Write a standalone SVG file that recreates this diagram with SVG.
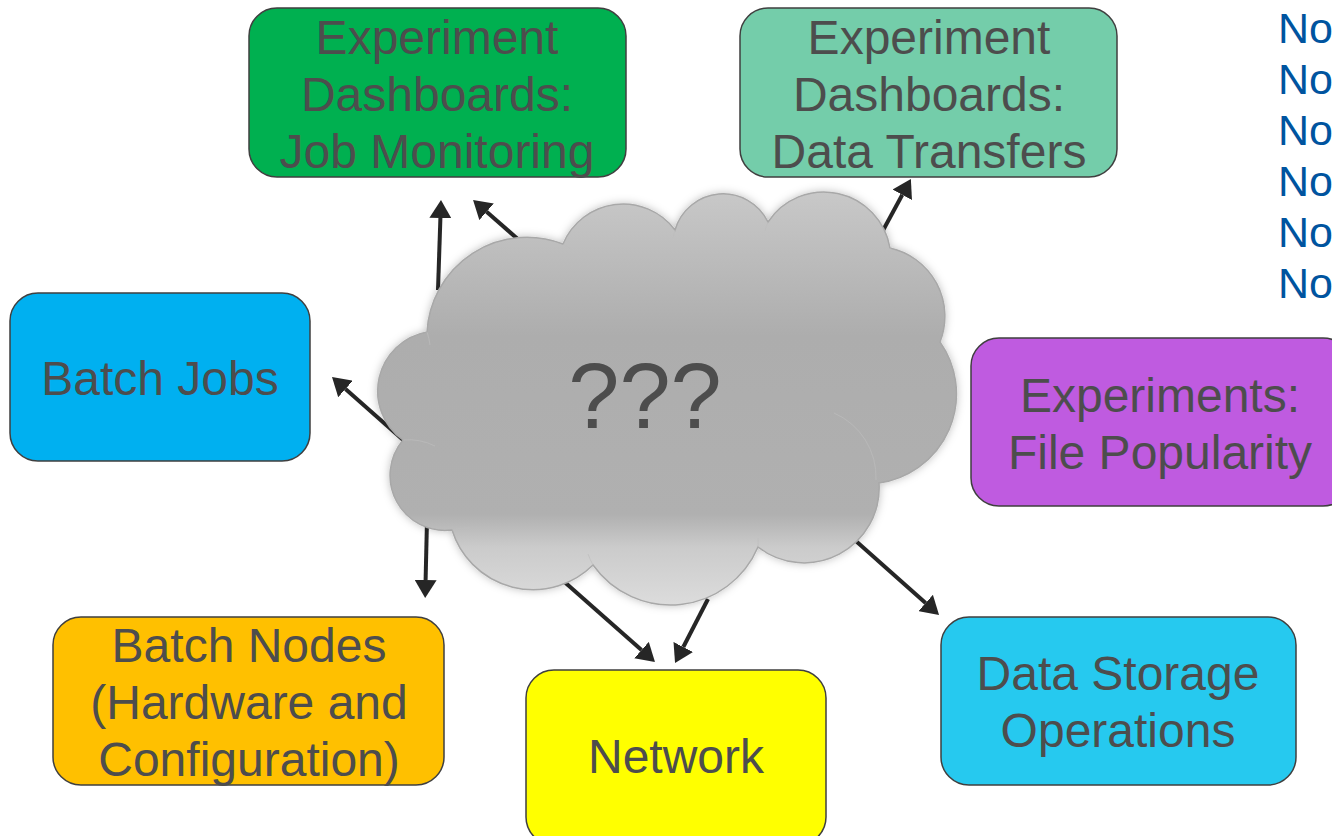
<svg xmlns="http://www.w3.org/2000/svg" width="1332" height="836" viewBox="0 0 1332 836">
<style>
.box{stroke:#3f3f3f;stroke-width:1.5}
.t{font-family:"Liberation Sans",Arial,sans-serif;font-size:48px;fill:#4d4d4d;text-anchor:middle}
.no{font-family:"Liberation Sans",Arial,sans-serif;font-size:43px;fill:#00549f}
.arr{stroke:#262626;stroke-width:4;fill:none;marker-end:url(#ah)}
</style>
<defs>
<marker id="ah" markerUnits="userSpaceOnUse" viewBox="0 0 18 22" markerWidth="18" markerHeight="22" refX="0" refY="11" orient="auto">
<path d="M0,0 L18,11 L0,22 z" fill="#262626"/>
</marker>
<linearGradient id="cg" x1="0" y1="0" x2="0" y2="1">
<stop offset="0" stop-color="#c8c8c8"/>
<stop offset="0.35" stop-color="#adadad"/>
<stop offset="0.78" stop-color="#b0b0b0"/>
<stop offset="0.86" stop-color="#cbcbcb"/>
<stop offset="1" stop-color="#dcdcdc"/>
</linearGradient>
<filter id="sh" x="-10%" y="-10%" width="120%" height="120%">
<feDropShadow dx="0" dy="0" stdDeviation="4" flood-color="#000" flood-opacity="0.25"/>
</filter>
</defs>
<rect width="1332" height="836" fill="#fff"/>
<g id="connectors">
<line class="arr" x1="438" y1="290" x2="440.4" y2="218"/>
<line class="arr" x1="520" y1="241" x2="486.6" y2="211.8"/>
<line class="arr" x1="880" y1="236" x2="902.3" y2="194.8"/>
<line class="arr" x1="410" y1="446" x2="345.5" y2="389"/>
<line class="arr" x1="427" y1="520" x2="425.6" y2="580"/>
<line class="arr" x1="560" y1="578" x2="641.5" y2="650.1"/>
<line class="arr" x1="708" y1="599" x2="683.3" y2="647"/>
<line class="arr" x1="848" y1="534" x2="925.6" y2="603"/>
</g>
<g id="cloud">
<path filter="url(#sh)" fill="url(#cg)" stroke="#a8a8a8" stroke-width="1.5" d="M427,332 A100,100 0 0,1 563,244 A65,65 0 0,1 675,230 A50,50 0 0,1 768,222 A67,67 0 0,1 890,248 A70,70 0 0,1 940,342 A90,90 0 0,1 879,483 A75,75 0 0,1 758,547 A95,95 0 0,1 593,565 A85,85 0 0,1 452,530 A55,55 0 0,1 403,440 A60,60 0 0,1 427,332 Z"/>
<g fill="none" stroke="#bdbdbd" stroke-width="1" opacity="0.7">
<path d="M563,244 A68,68 0 0,1 580,257"/>
<path d="M675,230 A50,50 0 0,0 673,238"/>
<path d="M768,222 A60,60 0 0,0 765,231"/>
<path d="M890,248 A70,70 0 0,1 892,258"/>
<path d="M834,413 A70,70 0 0,1 876,480"/>
<path d="M758,547 A95,95 0 0,0 758,538"/>
<path d="M593,565 A95,95 0 0,1 588,554"/>
<path d="M452,530 A55,55 0 0,1 470,528"/>
<path d="M403,440 A60,60 0 0,1 435,446"/>
<path d="M427,332 A60,60 0 0,1 430,345"/>
</g>
<text x="645" y="428" font-family="Liberation Sans,Arial,sans-serif" font-size="92" fill="#4d4d4d" text-anchor="middle">???</text>
</g>
<g id="job-monitoring">
<rect class="box" x="249" y="8" width="377" height="169" rx="28" fill="#00b050"/>
<text class="t" x="437" y="54">Experiment</text>
<text class="t" x="437" y="111">Dashboards:</text>
<text class="t" x="437" y="168">Job Monitoring</text>
</g>
<g id="data-transfers">
<rect class="box" x="740" y="8" width="377" height="169" rx="28" fill="#74cdaa"/>
<text class="t" x="929" y="54">Experiment</text>
<text class="t" x="929" y="111">Dashboards:</text>
<text class="t" x="929" y="168">Data Transfers</text>
</g>
<g id="batch-jobs">
<rect class="box" x="10" y="293" width="300" height="168" rx="28" fill="#00b0f0"/>
<text class="t" x="160" y="395">Batch Jobs</text>
</g>
<g id="file-popularity">
<rect class="box" x="971" y="338" width="380" height="168" rx="28" fill="#bf5be0"/>
<text class="t" x="1160" y="412">Experiments:</text>
<text class="t" x="1160" y="469">File Popularity</text>
</g>
<g id="batch-nodes">
<rect class="box" x="53" y="617" width="391" height="168" rx="28" fill="#ffc000"/>
<text class="t" x="249" y="662">Batch Nodes</text>
<text class="t" x="249" y="719">(Hardware and</text>
<text class="t" x="249" y="776">Configuration)</text>
</g>
<g id="network">
<rect class="box" x="526" y="670" width="300" height="175" rx="28" fill="#ffff00"/>
<text class="t" x="676" y="773">Network</text>
</g>
<g id="data-storage">
<rect class="box" x="941" y="617" width="355" height="168" rx="28" fill="#26c9ef"/>
<text class="t" x="1118" y="690">Data Storage</text>
<text class="t" x="1118" y="747">Operations</text>
</g>
<g id="no-list">
<text class="no" x="1278" y="43">No</text>
<text class="no" x="1278" y="94">No</text>
<text class="no" x="1278" y="145">No</text>
<text class="no" x="1278" y="196">No</text>
<text class="no" x="1278" y="247">No</text>
<text class="no" x="1278" y="298">No</text>
</g>
</svg>
